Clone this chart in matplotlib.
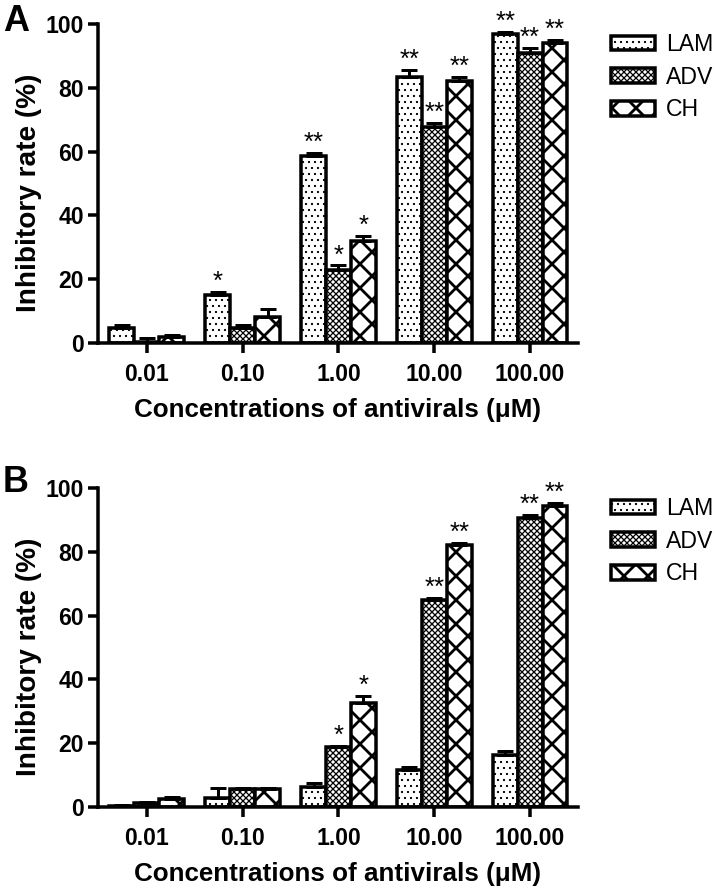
import numpy as np
import matplotlib
matplotlib.use("Agg")
import matplotlib.pyplot as plt

plt.rcParams['font.family'] = ['Liberation Sans', 'DejaVu Sans']
plt.rcParams['hatch.linewidth'] = 2.8

concentrations = ["0.01", "0.10", "1.00", "10.00", "100.00"]
drugs = ["LAM", "ADV", "CH"]

# panel A: mean inhibitory rate (%) and upper error
a_lam = [4.8, 15.0, 58.5, 83.5, 97.0]
a_adv = [0.3, 4.8, 23.0, 67.8, 90.8]
a_ch = [1.8, 8.3, 32.0, 82.0, 94.0]
a_lam_err = [0.8, 1.0, 1.0, 2.0, 0.5]
a_adv_err = [1.3, 0.8, 1.3, 1.3, 1.6]
a_ch_err = [0.8, 2.3, 1.5, 1.5, 1.0]
a_stars = [["", "*", "**", "**", "**"],
           ["", "", "*", "**", "**"],
           ["", "", "*", "**", "**"]]

# panel B
b_lam = [0.3, 2.8, 6.2, 11.6, 16.2]
b_adv = [1.2, 5.5, 18.8, 65.0, 90.5]
b_ch = [2.4, 5.5, 32.7, 82.0, 94.5]
b_lam_err = [0.3, 3.3, 1.3, 1.0, 1.4]
b_adv_err = [0.3, 0.5, 0.4, 0.6, 1.0]
b_ch_err = [0.6, 0.4, 2.0, 0.8, 0.8]
b_stars = [["", "", "", "", ""],
           ["", "", "*", "**", "**"],
           ["", "", "*", "**", "**"]]

hatches = ["..", "xxxx", "x"]
hatch_lw = [1.0, 1.3, 2.8]

W, H = 727, 892
fig = plt.figure(figsize=(W / 72, H / 72), dpi=72)


# make sure the thin hatches stay thin whichever way the hatch width is picked up
def with_hatch_lw(artist, lw):
    orig = artist.draw

    def draw(renderer):
        with plt.rc_context({'hatch.linewidth': lw}):
            orig(renderer)
    artist.draw = draw


def draw_panel(ax, vals, errs, stars):
    x = np.arange(len(concentrations))
    width = 0.26
    bars = []
    for i, (v, e) in enumerate(zip(vals, errs)):
        pos = x + (i - 1) * width
        with plt.rc_context({'hatch.linewidth': hatch_lw[i]}):
            b = ax.bar(pos, v, width, color='white', edgecolor='black',
                       linewidth=3.5, hatch=hatches[i], label=drugs[i], zorder=2)
        for p in b.patches:
            with_hatch_lw(p, hatch_lw[i])
        bars.append(b)
        ax.errorbar(pos, v, yerr=[np.zeros(len(v)), e], fmt='none', ecolor='black',
                    elinewidth=3, capsize=8, capthick=3, zorder=3, clip_on=False)
        for xp, yv, ev, s in zip(pos, v, e, stars[i]):
            if s:
                ax.annotate(s, (xp, yv + ev), xytext=(0, -2), textcoords='offset points',
                            ha='center', va='bottom', fontsize=26, annotation_clip=False)

    ax.set_xlim(-0.51, 4.5)
    ax.set_ylim(0, 100)
    ax.set_yticks([0, 20, 40, 60, 80, 100])
    ax.set_xticks(x)
    ax.set_xticklabels(concentrations)
    for s in ['top', 'right']:
        ax.spines[s].set_visible(False)
    for s in ['left', 'bottom']:
        ax.spines[s].set_linewidth(3.5)
    ax.tick_params(axis='both', length=10, width=3.5, labelsize=23)
    ax.tick_params(axis='x', pad=10)
    ax.tick_params(axis='y', pad=4)
    for lab in ax.get_xticklabels() + ax.get_yticklabels():
        lab.set_fontweight('bold')
    ax.set_ylabel('Inhibitory rate (%)', fontsize=28, fontweight='bold')
    ax.yaxis.set_label_coords(-0.117, 0.47)
    ax.set_xlabel('Concentrations of antivirals (\u03bcM)', fontsize=26,
                  fontweight='bold', labelpad=12)
    return bars


def add_legend(ax, bars, top_px):
    leg = ax.legend(handles=bars, loc='upper left', bbox_to_anchor=(611 / W, 1 - top_px / H),
                    bbox_transform=fig.transFigure, frameon=False, fontsize=23,
                    handlelength=1.9, handleheight=0.6, handletextpad=0.5,
                    labelspacing=0.42, borderpad=0, borderaxespad=0)
    for h, lw in zip(leg.legend_handles, hatch_lw):
        if hasattr(h, 'set_hatch_linewidth'):
            h.set_hatch_linewidth(lw)
        with_hatch_lw(h, lw)


axA = fig.add_axes([98 / W, 1 - 343 / H, 480 / W, 319 / H])
bars = draw_panel(axA, [a_lam, a_adv, a_ch], [a_lam_err, a_adv_err, a_ch_err], a_stars)
add_legend(axA, bars, 33)

axB = fig.add_axes([98 / W, 1 - 807 / H, 480 / W, 319 / H])
bars = draw_panel(axB, [b_lam, b_adv, b_ch], [b_lam_err, b_adv_err, b_ch_err], b_stars)
add_legend(axB, bars, 497)

fig.text(3 / W, 1 - 4 / H, 'A', fontsize=36, fontweight='bold', va='top', ha='left')
fig.text(3 / W, 1 - 465 / H, 'B', fontsize=36, fontweight='bold', va='top', ha='left')

fig.savefig('out.png', dpi=72)
